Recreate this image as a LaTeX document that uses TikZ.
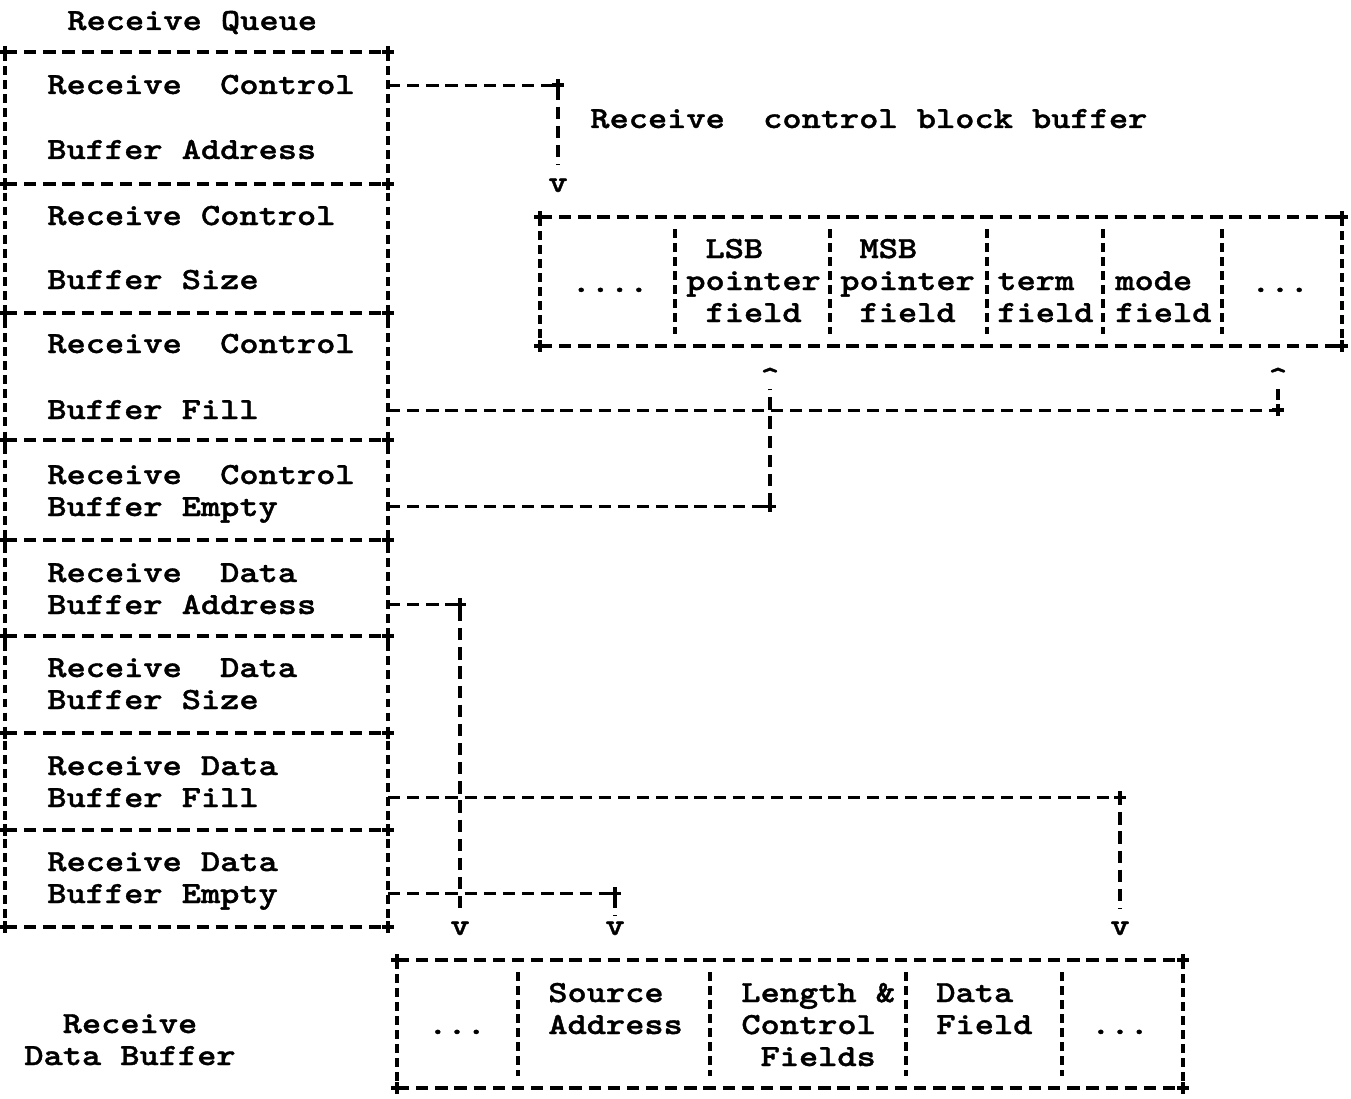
\documentclass[tikz,border=0pt]{standalone}
\usetikzlibrary{calc, positioning}

\font\typew="[lmmonolt10-bold]:extend=1.19;embolden=1.2" at 17.5pt
\tikzset{crn/.pic={\draw[line width=2pt] (-6,0) -- (6,0) (0,-6) -- (0,6);}}

\begin{document}
\begin{tikzpicture}[x=0.02cm,y=-0.02cm,
  txt/.style={font={\fontsize{17.5}{18.2}\selectfont\typew}, inner sep=0pt,
    text height=11pt, text depth=1pt, anchor=base west},
  ctr/.style={txt, anchor=base},
  cell/.style={font={\fontsize{17.5}{18.2}\selectfont\typew}, inner sep=0pt,
    align=left, anchor=base west},
  hdash/.style={line width=1.8pt, dash pattern=on 7pt off 3.9pt},
  vdash/.style={line width=1.8pt, dash pattern=on 5pt off 3pt},
  lnk/.style={hdash},
  dwn/.style={lnk, shorten >=4pt}]
\useasboundingbox (0,0) rectangle (1351,1098);

% Receive queue
\node[txt] (qtitle) at (67,30) {Receive Queue};
\coordinate (qE) at (388,0);
\foreach \y in {52,184,313,440,540,636,733,830,927}{
  \draw[hdash] (5,\y) -- (388,\y);
  \pic at (5,\y) {crn};
  \pic at (388,\y) {crn};
}
\draw[vdash] (5,52) -- (5,927);
\draw[vdash] (388,52) -- (388,927);

\node[txt] (rcA1) at (47,94) {Receive~~Control};
\node[txt] (rcA2) at (47,159) {Buffer Address};
\node[txt] (rcB1) at (47,225) {Receive Control};
\node[txt] (rcB2) at (47,289) {Buffer Size};
\node[txt] (rcC1) at (47,353) {Receive~~Control};
\node[txt] (rcC2) at (47,419) {Buffer Fill};
\node[cell] (rcD) at (47,516) {Receive~~Control\\Buffer Empty};
\node[cell] (rdA) at (47,614) {Receive~~Data\\Buffer Address};
\node[cell] (rdB) at (47,709) {Receive~~Data\\Buffer Size};
\node[cell] (rdC) at (47,807) {Receive Data\\Buffer Fill};
\node[cell] (rdD) at (47,903) {Receive Data\\Buffer Empty};

% connector levels (second text line of a cell)
\coordinate (rcDm) at ([yshift=5.5pt]rcD.base);
\coordinate (rdAm) at ([yshift=5.5pt]rdA.base);
\coordinate (rdCm) at ([yshift=5.5pt]rdC.base);
\coordinate (rdDm) at ([yshift=5.5pt]rdD.base);

% Receive control block buffer
\node[txt] (cblabel) at (590,128) {Receive~~control block buffer};
\draw[hdash] (540,217) -- (1342,217);
\draw[hdash] (540,346) -- (1342,346);
\draw[vdash] (540,217) -- (540,346);
\draw[vdash] (1342,217) -- (1342,346);
\foreach \x in {675,830,987,1103,1222}
  \draw[vdash] (\x,229) -- (\x,334);
\foreach \x/\y in {540/217,1342/217,540/346,1342/346}
  \pic at (\x,\y) {crn};

\node[ctr] (cbdotsL) at (610,292) {....};
\node[cell] (lsb) at (686,322) {\phantom{x}LSB\\pointer\\\phantom{x}field};
\node[cell] (msb) at (840,322) {\phantom{x}MSB\\pointer\\\phantom{x}field};
\node[cell] (term) at (997,322) {term\\field};
\node[cell] (mode) at (1115,322) {mode\\field};
\node[ctr] (cbdotsR) at (1280,292) {...};

% Arrow heads
\node[ctr] (v1) at (558,192) {v};
\node[ctr] (up1) at (770,387) {\textasciicircum};
\node[ctr] (up2) at (1278,387) {\textasciicircum};
\node[ctr] (v2) at (460,935) {v};
\node[ctr] (v3) at (615,935) {v};
\node[ctr] (v4) at (1120,935) {v};

% Control connectors
\draw[dwn] (qE |- rcA1.center) -| (v1.north);
\draw[lnk] (qE |- rcC2.center) -| (up2.south);
\draw[lnk] (qE |- rcDm) -| (up1.south);
\pic at (v1 |- rcA1.center) {crn};
\pic at (up2 |- rcC2.center) {crn};
\pic at (up1 |- rcDm) {crn};

% Data connectors
\draw[dwn] (qE |- rdAm) -| (v2.north);
\draw[dwn] (qE |- rdCm) -| (v4.north);
\draw[lnk] (qE |- rdDm) -| (v3.north);
\pic at (v2 |- rdAm) {crn};
\pic at (v4 |- rdCm) {crn};
\pic at (v3 |- rdDm) {crn};

% Receive data buffer
\node[cell, align=center, anchor=base] (dbl) at (130,1065) {Receive\\Data Buffer};
\draw[hdash] (397,960) -- (1183,960);
\draw[hdash] (397,1088) -- (1183,1088);
\draw[vdash] (397,960) -- (397,1088);
\draw[vdash] (1183,960) -- (1183,1088);
\foreach \x in {518,710,906,1062}
  \draw[vdash] (\x,972) -- (\x,1076);
\foreach \x/\y in {397/960,1183/960,397/1088,1183/1088}
  \pic at (\x,\y) {crn};

\node[ctr] (dbdotsL) at (457,1034) {...};
\node[cell] (src) at (548,1034) {Source\\Address};
\node[cell] (len) at (741,1066) {Length \&\\Control\\\phantom{x}Fields};
\node[cell] (dat) at (936,1034) {Data\\Field};
\node[ctr] (dbdotsR) at (1120,1034) {...};
\end{tikzpicture}
\end{document}
